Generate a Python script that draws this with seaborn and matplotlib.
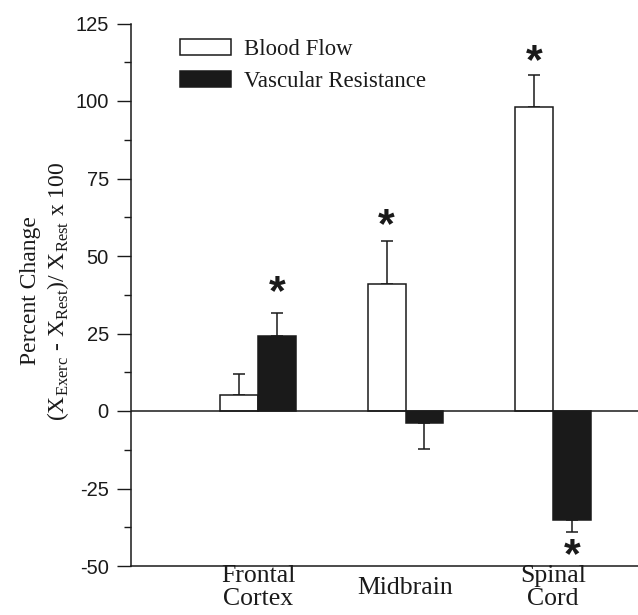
import numpy as np
import pandas as pd
import matplotlib
matplotlib.use("Agg")
import matplotlib.pyplot as plt
from matplotlib.patches import Patch
from matplotlib.ticker import MultipleLocator
import seaborn as sns

# ---- data ----
regions = ["Frontal\nCortex", "Midbrain", "Spinal\nCord"]
measures = ["Blood Flow", "Vascular Resistance"]
blood_flow = [5.2, 41.0, 98.0]
blood_flow_err = [6.8, 14.0, 10.3]
vasc_res = [24.3, -3.8, -35.2]
vasc_res_err = [7.4, 8.6, 3.7]
# significance markers: (region index, measure index, y position)
sig_marks = [(0, 1, 38.0), (1, 0, 59.5), (2, 0, 112.5), (2, 1, -46.9)]
yticks = [-50, -25, 0, 25, 50, 75, 100, 125]

df = pd.DataFrame({
    "region": regions * 2,
    "measure": [measures[0]] * 3 + [measures[1]] * 3,
    "value": blood_flow + vasc_res,
})

sns.set_style("ticks")
plt.rcParams["font.family"] = ["Liberation Sans", "DejaVu Sans"]
plt.rcParams["axes.unicode_minus"] = False

fig = plt.figure(figsize=(6.38, 6.15), dpi=100)
ax = fig.add_axes([131 / 638, 49 / 615, 1 - 131 / 638, (566 - 23.5) / 615])

face = {"Blood Flow": "white", "Vascular Resistance": "#1a1a1a"}
sns.barplot(data=df, x="region", y="value", hue="measure", order=regions,
            hue_order=measures, palette=face, edgecolor="#1a1a1a",
            linewidth=1.1, width=0.51, errorbar=None, legend=False,
            ax=ax, zorder=3)

# error bars (one-sided, pointing away from zero)
centers = {}
for mi, (cont, vals, errs) in enumerate(zip(ax.containers,
                                            [blood_flow, vasc_res],
                                            [blood_flow_err, vasc_res_err])):
    for ri, (bar, v, e) in enumerate(zip(cont, vals, errs)):
        xc = bar.get_x() + bar.get_width() / 2
        centers[(ri, mi)] = xc
        lo, hi = (0, e) if v >= 0 else (e, 0)
        ax.errorbar(xc, v, yerr=[[lo], [hi]], fmt="none", ecolor="#1a1a1a",
                    elinewidth=1.1, capsize=4.3, capthick=1.1, zorder=2)

for ri, mi, y in sig_marks:
    ax.text(centers[(ri, mi)], y, "*", ha="center", va="center",
            fontsize=31, fontweight="bold", color="#1a1a1a",
            family=["Liberation Sans", "DejaVu Sans"])

ax.axhline(0, color="#1a1a1a", lw=1.1, zorder=4)

ax.set_ylim(-50, 125)
ax.set_xlim(-0.861, 2.576)
ax.yaxis.set_minor_locator(MultipleLocator(12.5))
ax.set_yticks(yticks)
ax.tick_params(axis="y", which="major", length=10, width=1, labelsize=14.5,
               pad=6, color="#1a1a1a", labelcolor="#1a1a1a")
ax.tick_params(axis="y", which="minor", length=5, width=1, color="#1a1a1a")
ax.tick_params(axis="x", length=0, pad=15.5, labelsize=18.5, labelcolor="#1a1a1a")
for lab in ax.get_xticklabels():
    lab.set_fontfamily(["Liberation Serif", "DejaVu Serif"])
    lab.set_va("center")
    lab.set_linespacing(1.06)
    lab.set_multialignment("center")

sns.despine(ax=ax, top=True, right=True)
for s in ["left", "bottom"]:
    ax.spines[s].set_color("#1a1a1a")
    ax.spines[s].set_linewidth(1.1)

ax.set_xlabel("")
ax.set_ylabel("Percent Change\n"
              r"(X$_{\mathregular{Exerc}}$ - X$_{\mathregular{Rest}}$)/ X$_{\mathregular{Rest}}$ x 100",
              fontsize=17, family=["Liberation Serif", "DejaVu Serif"],
              color="#1a1a1a", linespacing=1.2)
ax.yaxis.set_label_coords((71 - 131) / 507, (566 - 291) / 542.5)

handles = [Patch(facecolor=face[m], edgecolor="#1a1a1a", linewidth=1.1, label=m)
           for m in measures]
leg = ax.legend(handles=handles, loc="upper left",
                bbox_to_anchor=(180 / 638, 1 - 39 / 615),
                bbox_transform=fig.transFigure, frameon=False,
                prop={"family": ["Liberation Serif", "DejaVu Serif"], "size": 16.4},
                handlelength=2.25, handleheight=0.7, handletextpad=0.55,
                labelspacing=0.5, borderaxespad=0, borderpad=0)
for t in leg.get_texts():
    t.set_color("#1a1a1a")

fig.savefig("out.png", dpi=100)
